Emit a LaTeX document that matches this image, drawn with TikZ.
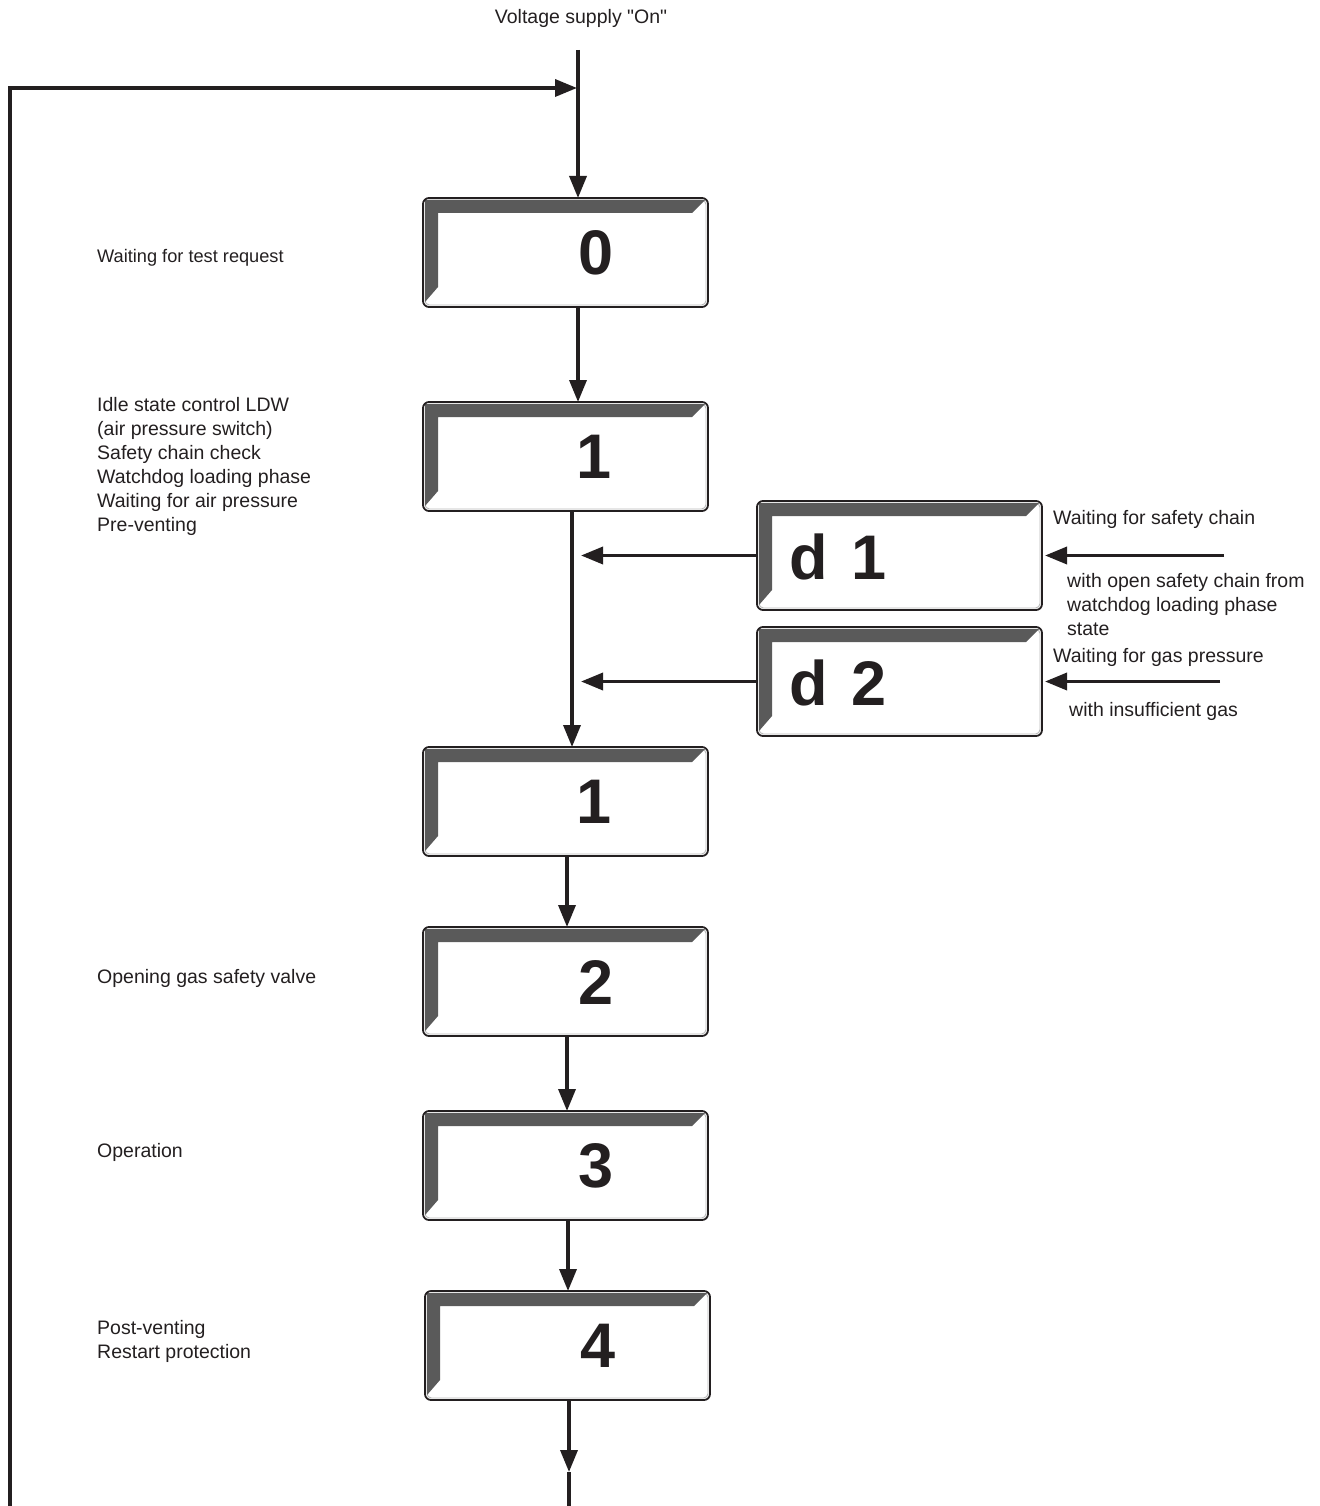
\documentclass[tikz,border=0pt]{standalone}
\usepackage{fontspec}
\setmainfont{Liberation Sans}
\usetikzlibrary{arrows.meta}

\definecolor{ink}{HTML}{231F20}
\definecolor{bevel}{HTML}{5A5A5A}

\tikzset{
  statebox/.style={draw=ink, line width=1.8pt, rounded corners=6pt, fill=white,
    minimum width=285pt, minimum height=109pt, inner sep=0pt, outer sep=0pt,
    path picture={
      % inner grey rim
      \draw[gray!55, line width=0.9pt, rounded corners=4.5pt]
        ([shift={(2pt,-2pt)}]path picture bounding box.north west) rectangle
        ([shift={(-2pt,2pt)}]path picture bounding box.south east);
      % dark bevel, top and left
      \fill[bevel, sharp corners]
        ([shift={(2pt,-2pt)}]path picture bounding box.north west)
        -- ([shift={(-3pt,-2pt)}]path picture bounding box.north east)
        -- ([shift={(-16pt,-15pt)}]path picture bounding box.north east)
        -- ([shift={(15pt,-15pt)}]path picture bounding box.north west)
        -- ([shift={(15pt,20pt)}]path picture bounding box.south west)
        -- ([shift={(2pt,5pt)}]path picture bounding box.south west) -- cycle;
    }},
  statenum/.style={font=\fontsize{63}{63}\selectfont\bfseries, text=ink, inner sep=0pt},
  note/.style={font=\fontsize{19.5}{24}\selectfont, text=ink, align=left, inner sep=0pt},
  flow/.style={draw=ink, line width=3.5pt, -{Triangle[length=22pt, width=17pt]}},
}

\begin{document}
\begin{tikzpicture}[x=1pt, y=-1pt]
  \useasboundingbox (0,0) rectangle (1319,1506);

  % main chain of states
  \node[statebox] (s0)  at (565.5,252.5)  {};
  \node[statebox] (s1)  at (565.5,456.5)  {};
  \node[statebox] (s1b) at (565.5,801.5)  {};
  \node[statebox] (s2)  at (565.5,981.5)  {};
  \node[statebox] (s3)  at (565.5,1165.5) {};
  \node[statebox] (s4)  at (567.5,1345.5) {};
  % waiting states
  \node[statebox] (d1)  at (899.5,555.5)  {};
  \node[statebox] (d2)  at (899.5,681.5)  {};

  \node[statenum] (n0)  at (596,253)  {0};
  \node[statenum] (n1)  at (594,457)  {1};
  \node[statenum] (n1b) at (594,802)  {1};
  \node[statenum] (n2)  at (596,982)  {2};
  \node[statenum] (n3)  at (596,1166) {3};
  \node[statenum] (n4)  at (598,1346) {4};
  \node[statenum, anchor=west] (nd1) at (789,557) {d\hspace{0.38em}1};
  \node[statenum, anchor=west] (nd2) at (789,683) {d\hspace{0.38em}2};

  % texts
  \node[note] (tv) at (581,18) {Voltage supply \textquotedbl On\textquotedbl};
  \node[note, font=\fontsize{18.2}{24}\selectfont, anchor=west] (t0) at (97,258) {Waiting for test request};
  \node[note, anchor=north west] (t1) at (97,397)
    {Idle state control LDW\\(air pressure switch)\\Safety chain check\\Watchdog loading phase\\Waiting for air pressure\\Pre-venting};
  \node[note, anchor=west] (t2) at (97,978) {Opening gas safety valve};
  \node[note, anchor=west] (t3) at (97,1152) {Operation};
  \node[note, anchor=north west] (t4) at (97,1320) {Post-venting\\Restart protection};
  \node[note, anchor=west] (td1) at (1053,519) {Waiting for safety chain};
  \node[note, anchor=north west] (td1b) at (1067,573)
    {with open safety chain from\\watchdog loading phase\\state};
  \node[note, anchor=west] (td2) at (1053,657) {Waiting for gas pressure};
  \node[note, anchor=west] (td2b) at (1069,711) {with insufficient gas};

  % connectors
  \coordinate (vin) at (578,50);
  \coordinate (lb) at (10,1506);
  \coordinate (lt) at (577,88);
  \coordinate (j1) at (581,555.5);
  \coordinate (j2) at (581,681.5);
  \coordinate (e1) at (1224,555.5);
  \coordinate (e2) at (1220,681.5);
  \coordinate (o1) at (569,1472);
  \coordinate (o2) at (569,1506);

  \draw[flow] (vin) -- (vin |- s0.north);
  \draw[flow] (lb) |- (lt);
  \draw[flow] ([xshift=12.5pt]s0.south) -- ([xshift=12.5pt]s1.north);
  \draw[flow] ([xshift=6.5pt]s1.south) -- ([xshift=6.5pt]s1b.north);
  \draw[flow] (d1.west) -- (j1);
  \draw[flow] (d2.west) -- (j2);
  \draw[flow] (e1) -- ([xshift=3pt]d1.east);
  \draw[flow] (e2) -- ([xshift=3pt]d2.east);
  \draw[flow] ([xshift=1.5pt]s1b.south) -- ([xshift=1.5pt]s2.north);
  \draw[flow] ([xshift=1.5pt]s2.south) -- ([xshift=1.5pt]s3.north);
  \draw[flow] ([xshift=2.5pt]s3.south) -- ([xshift=0.5pt]s4.north);
  \draw[flow] ([xshift=1.5pt]s4.south) -- (o1);
  \draw[ink, line width=3.5pt] (o1) -- (o2);
\end{tikzpicture}
\end{document}
